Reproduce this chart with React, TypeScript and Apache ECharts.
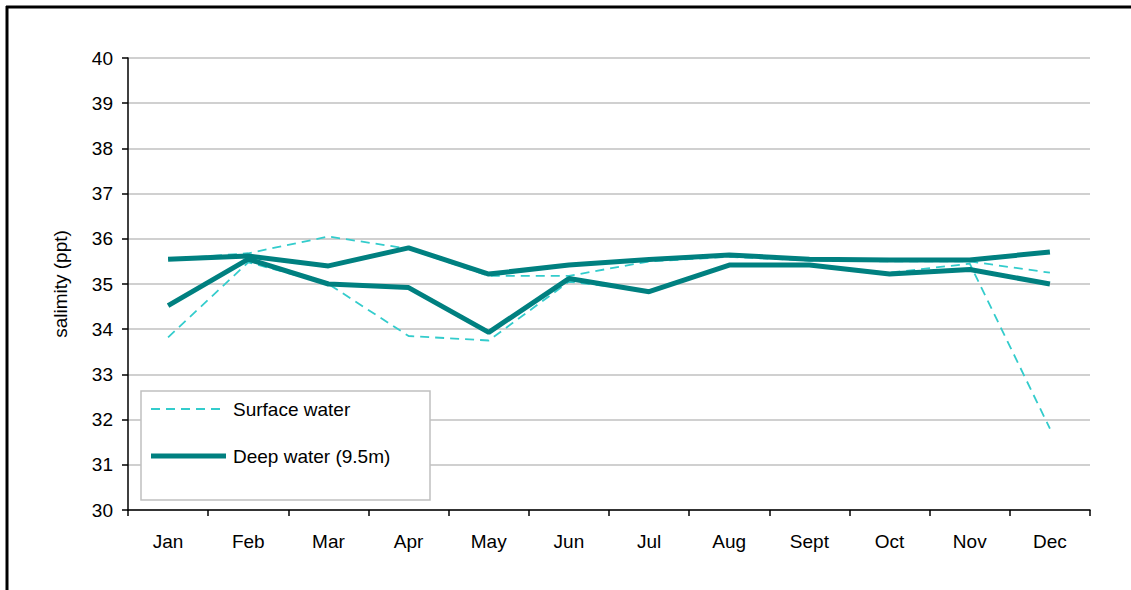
import React, { useEffect, useRef } from "react";
import * as echarts from "echarts";

const months = ["Jan", "Feb", "Mar", "Apr", "May", "Jun", "Jul", "Aug", "Sept", "Oct", "Nov", "Dec"];
const surfaceA = [35.55, 35.68, 36.05, 35.78, 35.18, 35.18, 35.5, 35.6, 35.52, 35.5, 35.5, 35.25];
const surfaceB = [33.82, 35.48, 35.0, 33.85, 33.75, 35.05, 34.85, 35.4, 35.4, 35.25, 35.45, 31.8];
const deepA = [35.55, 35.62, 35.4, 35.8, 35.22, 35.42, 35.54, 35.64, 35.55, 35.53, 35.53, 35.71];
const deepB = [34.52, 35.55, 35.0, 34.92, 33.93, 35.12, 34.83, 35.42, 35.42, 35.22, 35.32, 35.0];

const SURFACE = "Surface water";
const DEEP = "Deep water (9.5m)";
const FONT = "'Liberation Sans', Arial, sans-serif";
const SURF_COLOR = "#33CCCC";
const DEEP_COLOR = "#008080";

export default function App() {
  const ref = useRef<HTMLDivElement>(null);
  useEffect(() => {
    const chart = echarts.init(ref.current!, null, { renderer: "svg" });
    const surfStyle = { color: SURF_COLOR, width: 1.8, type: [9, 6] as any };
    const deepStyle = { color: DEEP_COLOR, width: 5 };
    chart.setOption({
      animation: false,
      backgroundColor: "#ffffff",
      textStyle: { fontFamily: FONT },
      grid: { left: 128, top: 58, right: 41, bottom: 80 },
      xAxis: {
        type: "category",
        data: months,
        boundaryGap: true,
        axisLine: { lineStyle: { color: "#000", width: 1.5 } },
        axisTick: { show: true, length: 6, lineStyle: { color: "#000", width: 1.5 } },
        axisLabel: { color: "#000", fontSize: 19, margin: 22, fontFamily: FONT },
        splitLine: { show: false },
      },
      yAxis: {
        type: "value",
        min: 30,
        max: 40,
        interval: 1,
        name: "salimity (ppt)",
        nameLocation: "middle",
        nameGap: 58,
        nameRotate: 90,
        nameTextStyle: { color: "#000", fontSize: 19, fontFamily: FONT },
        axisLine: { show: true, lineStyle: { color: "#000", width: 1.5 } },
        axisTick: { show: true, length: 6, lineStyle: { color: "#000", width: 1.5 } },
        axisLabel: { color: "#000", fontSize: 19, margin: 15, fontFamily: FONT },
        splitLine: { show: true, lineStyle: { color: "#c0c0c0", width: 1.5 } },
      },
      graphic: [
        {
          type: "rect",
          z: 1,
          shape: { x: 141, y: 391, width: 289, height: 109 },
          style: { fill: "#ffffff", stroke: "#c0c0c0", lineWidth: 1.5 },
        },
        {
          type: "line",
          z: 5,
          shape: { x1: 151, y1: 409, x2: 226, y2: 409 },
          style: { stroke: SURF_COLOR, lineWidth: 1.8, lineDash: [9, 6] },
        },
        {
          type: "text",
          z: 5,
          x: 233,
          y: 409,
          style: { text: SURFACE, fill: "#000", font: `19px ${FONT}`, textVerticalAlign: "middle", verticalAlign: "middle" },
        },
        {
          type: "line",
          z: 5,
          shape: { x1: 151, y1: 456, x2: 226, y2: 456 },
          style: { stroke: DEEP_COLOR, lineWidth: 5 },
        },
        {
          type: "text",
          z: 5,
          x: 233,
          y: 456,
          style: { text: DEEP, fill: "#000", font: `19px ${FONT}`, textVerticalAlign: "middle", verticalAlign: "middle" },
        },
        {
          type: "line",
          z: 10,
          shape: { x1: 6, y1: 7, x2: 1131, y2: 7 },
          style: { stroke: "#000", lineWidth: 3 },
        },
        {
          type: "line",
          z: 10,
          shape: { x1: 7, y1: 6, x2: 7, y2: 590 },
          style: { stroke: "#000", lineWidth: 3 },
        },
      ],
      series: [
        { name: SURFACE, type: "line", data: surfaceA, symbol: "none", lineStyle: surfStyle, itemStyle: { color: SURF_COLOR }, z: 2 },
        { name: SURFACE, type: "line", data: surfaceB, symbol: "none", lineStyle: surfStyle, itemStyle: { color: SURF_COLOR }, z: 2 },
        { name: DEEP, type: "line", data: deepA, symbol: "none", lineStyle: deepStyle, itemStyle: { color: DEEP_COLOR }, z: 3 },
        { name: DEEP, type: "line", data: deepB, symbol: "none", lineStyle: deepStyle, itemStyle: { color: DEEP_COLOR }, z: 3 },
      ],
    });
    return () => chart.dispose();
  }, []);
  return (
    <div style={{ position: "fixed", left: 0, top: 0, width: 1131, height: 590, background: "#fff" }}>
      <div ref={ref} style={{ width: 1131, height: 590 }} />
    </div>
  );
}
